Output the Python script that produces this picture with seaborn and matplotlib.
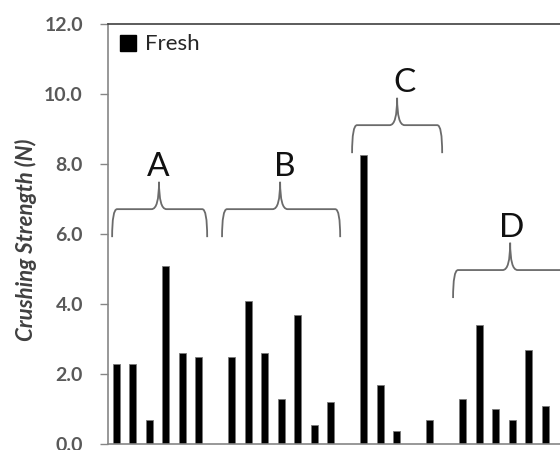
import matplotlib
matplotlib.use("Agg")
import matplotlib.pyplot as plt
import numpy as np
import seaborn as sns
from matplotlib.patches import PathPatch, Patch
from matplotlib.path import Path

# one slot per sample, NaN where the original chart leaves a gap
SAMPLES = [str(i) for i in range(27)]
FRESH = [2.3, 2.3, 0.7, 5.1, 2.6, 2.5, np.nan,
         2.5, 4.1, 2.6, 1.3, 3.7, 0.55, 1.2, np.nan,
         8.25, 1.7, 0.37, np.nan, 0.7, np.nan,
         1.3, 3.4, 1.0, 0.7, 2.7, 1.1]

# group braces: label, left end, right end, cusp x, level
GROUPS = ["A", "B", "C", "D"]
BRACE_X0 = [-0.24, 6.42, 14.3, 20.42]
BRACE_X1 = [5.52, 13.58, 19.76, 29.5]
BRACE_XM = [2.6, 9.94, 17.03, 23.88]
BRACE_Y = [6.71, 6.71, 9.11, 4.97]
LABEL_X = [2.55, 10.24, 17.5, 24.0]

Y_TICKS = [0, 2, 4, 6, 8, 10, 12]

GREY = "#595959"


def draw_brace(ax, x0, x1, xm, y, drop=0.8, rise=0.78, dx_end=0.3, dx_cusp=0.45):
    verts = [
        (x0, y - drop), (x0, y), (x0 + dx_end, y),
        (xm - dx_cusp, y),
        (xm, y), (xm, y + rise),
        (xm, y), (xm + dx_cusp, y),
        (x1 - dx_end, y),
        (x1, y), (x1, y - drop),
    ]
    codes = [
        Path.MOVETO, Path.CURVE3, Path.CURVE3,
        Path.LINETO,
        Path.CURVE3, Path.CURVE3,
        Path.CURVE3, Path.CURVE3,
        Path.LINETO,
        Path.CURVE3, Path.CURVE3,
    ]
    patch = PathPatch(Path(verts, codes), facecolor="none", edgecolor="#6b6b6b",
                      linewidth=1.3, zorder=3)
    ax.add_patch(patch)


sns.set_theme(style="white")
plt.rcParams["font.family"] = ["Lato", "DejaVu Sans"]

fig = plt.figure(figsize=(5.6, 4.5), dpi=100, facecolor="white")
ax = fig.add_axes([108 / 560, 6 / 450, 1 - 108 / 560, 420 / 450])

sns.barplot(x=SAMPLES, y=FRESH, order=SAMPLES, color="black", saturation=1,
            width=0.42, edgecolor="#7a7a7a", linewidth=0.6, ax=ax)

for x0, x1, xm, y in zip(BRACE_X0, BRACE_X1, BRACE_XM, BRACE_Y):
    draw_brace(ax, x0, x1, xm, y)
for lab, lx, y in zip(GROUPS, LABEL_X, BRACE_Y):
    ax.text(lx, y + 0.95, lab, ha="center", va="baseline", fontsize=24, color="#111111")

ax.set_xlim(-0.49, 26.9)
ax.set_ylim(0, 12)
ax.set_yticks(Y_TICKS)
ax.set_yticklabels([f"{v:.1f}" for v in Y_TICKS], fontsize=14, color=GREY, fontweight="bold")
ax.set_xticks([])
ax.set_xlabel("")
ax.tick_params(axis="y", direction="out", length=6, width=1.0, color="#868686", pad=12, left=True)

ax.set_ylabel("Crushing Strength (N)", fontsize=16, fontweight="bold", fontstyle="italic",
              color="#404040")
ax.yaxis.set_label_coords(-0.158, 0.485)

ax.spines["right"].set_visible(False)
ax.spines["left"].set_color("#868686")
ax.spines["bottom"].set_color("#868686")
ax.spines["top"].set_color("#404040")
for s in ["left", "bottom", "top"]:
    ax.spines[s].set_linewidth(1.2)

handle = Patch(facecolor="black", edgecolor="black")
ax.legend([handle], ["Fresh"], loc="upper left", bbox_to_anchor=(0.027, 0.975),
          frameon=False, fontsize=16, handlelength=0.7, handleheight=0.7,
          handletextpad=0.4, borderpad=0, borderaxespad=0, labelcolor="#262626")

fig.savefig("out.png", dpi=100, facecolor="white")
